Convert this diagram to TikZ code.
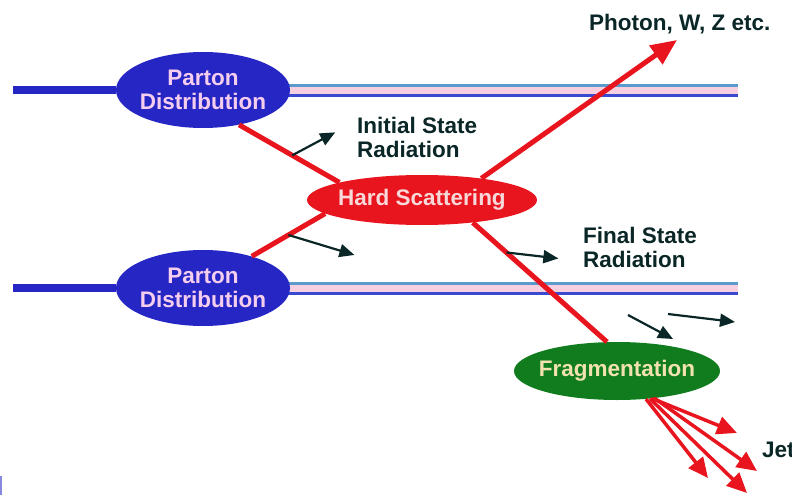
\documentclass[tikz,border=0pt]{standalone}
\usepackage{fontspec}
\setmainfont{Liberation Sans}
\usetikzlibrary{shapes.geometric,arrows.meta,backgrounds}

\definecolor{pdblue}{RGB}{38,38,196}
\definecolor{pdtext}{RGB}{245,205,239}
\definecolor{hsred}{RGB}{232,20,30}
\definecolor{hstext}{RGB}{248,216,216}
\definecolor{fraggreen}{RGB}{16,124,30}
\definecolor{fragtext}{RGB}{242,226,176}
\definecolor{labtext}{RGB}{10,38,38}
\definecolor{railsteel}{RGB}{90,154,205}
\definecolor{railblue}{RGB}{58,74,208}
\definecolor{railpink}{RGB}{246,208,224}

\newcommand{\figfont}{\bfseries\fontsize{22.5}{24}\selectfont}

\begin{document}
\begin{tikzpicture}[x=1pt, y=-1pt,
    blob/.style={ellipse, inner xsep=-15pt, inner ysep=0pt, align=center, font=\figfont},
    parton/.style={blob, fill=pdblue, text=pdtext, minimum width=174pt, minimum height=76pt},
    hard/.style={blob, fill=hsred, text=hstext, minimum width=230pt, minimum height=50pt},
    frag/.style={blob, fill=fraggreen, text=fragtext, minimum width=206pt, minimum height=58pt},
    label/.style={text=labtext, align=left, inner sep=0pt, anchor=north west, font=\figfont},
    beam/.style={draw=pdblue, line width=8pt},
    band/.style={draw=railpink, line width=10pt},
    rail/.style={draw=#1, line width=3pt},
    quark/.style={draw=hsred, line width=5pt},
    boson/.style={quark, -{Triangle[length=26pt,width=22pt]}},
    jet/.style={draw=hsred, line width=3.5pt, -{Triangle[length=20pt,width=18pt]}},
    rad/.style={draw=labtext, line width=2.2pt, -{Triangle[length=15pt,width=13pt]}}]
    \clip (0,0) rectangle (792,495);

    % blobs
    \node[parton] (pdtop) at (203,90) {Parton\\Distribution};
    \node[parton] (pdbot) at (203,288) {Parton\\Distribution};
    \node[hard] (hs) at (422,200) {Hard Scattering};
    \node[frag] (fr) at (617,371) {Fragmentation};

    % labels
    \node[label] (isr) at (357,117) {Initial State\\Radiation};
    \node[label] (fsr) at (583,227) {Final State\\Radiation};
    \node[label] (photon) at (589,14) {Photon, W, Z etc.};
    \node[label] (jets) at (762,442) {Jets};

    \coordinate (topL) at (13,90);
    \coordinate (topR) at (738,90);
    \coordinate (botL) at (13,288);
    \coordinate (botR) at (738,288);
    \coordinate (phtip) at (677,40);

    \begin{scope}[on background layer]
        % beams
        \draw[beam] (topL) -- (pdtop);
        \draw[band] (pdtop) -- (topR);
        \draw[rail=railsteel] ([yshift=5pt]pdtop.center) -- ([yshift=5pt]topR);
        \draw[rail=railblue] ([yshift=-5pt]pdtop.center) -- ([yshift=-5pt]topR);

        \draw[beam] (botL) -- (pdbot);
        \draw[band] (pdbot) -- (botR);
        \draw[rail=railsteel] ([yshift=5pt]pdbot.center) -- ([yshift=5pt]botR);
        \draw[rail=railblue] ([yshift=-5pt]pdbot.center) -- ([yshift=-5pt]botR);
    \end{scope}

    % partons into the hard scattering, and out of it
    \draw[quark] (pdtop.-44) -- coordinate[pos=0.53] (isrA) (hs.168);
    \draw[quark] (pdbot.33) -- coordinate[pos=0.5] (isrB) (hs.188);
    \draw[boson] (hs.20) -- (phtip);
    \draw[quark] (hs.-24) -- coordinate[pos=0.25] (fsrA) (fr.109);

    % jets
    \draw[jet] (fr.-38) -- (737,433);
    \draw[jet] (fr.-36) -- (757,471);
    \draw[jet] (fr.-44) -- (708,478);
    \draw[jet] (fr.-40) -- (747,493);

    % radiation
    \draw[rad] (isrA) -- ++(43,-23);
    \draw[rad] (isrB) -- ++(66,20);
    \draw[rad] (fsrA) -- ++(52,6);
    \coordinate (fragA) at (628,315);
    \coordinate (fragB) at (668,314);
    \draw[rad] (fragA) -- (673,339);
    \draw[rad] (fragB) -- (735,322);

    \fill[pdblue!55] (0,476) rectangle (2,495);
\end{tikzpicture}
\end{document}
